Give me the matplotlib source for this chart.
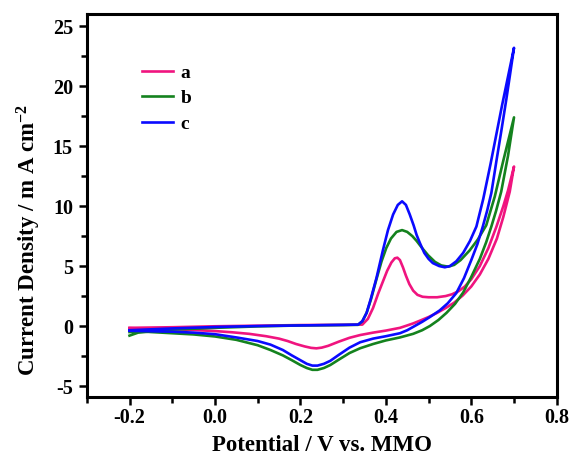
import numpy as np
import matplotlib.pyplot as plt

plt.rcParams['font.family'] = 'Liberation Serif'
plt.rcParams['font.weight'] = 'bold'
plt.rcParams['mathtext.default'] = 'regular'
plt.rcParams['axes.unicode_minus'] = False

# CV loops: forward (anodic) sweep then reverse sweep, potential in V, current in mA cm^-2
a_fwd_E = [-0.2, -0.1, 0.0, 0.1, 0.2, 0.3, 0.345, 0.358, 0.37, 0.382, 0.393, 0.403, 0.413, 0.421, 0.427,
           0.433, 0.44, 0.447, 0.455, 0.464, 0.474, 0.486, 0.50, 0.52, 0.54, 0.555, 0.57, 0.585, 0.60,
           0.62, 0.64, 0.659, 0.675, 0.686, 0.70]
a_fwd_j = [-0.15, -0.1, -0.02, 0.03, 0.08, 0.1, 0.12, 0.6, 1.5, 2.7, 3.7, 4.6, 5.3, 5.65, 5.7,
           5.5, 4.9, 4.2, 3.5, 2.95, 2.6, 2.44, 2.4, 2.4, 2.5, 2.65, 2.9, 3.3, 3.9,
           5.0, 6.5, 8.3, 10.0, 11.3, 13.3]
a_rev_E = [0.70, 0.69, 0.675, 0.66, 0.64, 0.62, 0.60, 0.58, 0.56, 0.54, 0.52, 0.50, 0.48, 0.464, 0.45,
           0.433, 0.40, 0.37, 0.34, 0.315, 0.29, 0.265, 0.25, 0.2375, 0.225, 0.21, 0.19, 0.17, 0.15,
           0.12, 0.08, 0.04, 0.0, -0.05, -0.1, -0.2]
a_rev_j = [13.3, 11.2, 9.1, 7.3, 5.6, 4.3, 3.3, 2.55, 1.95, 1.5, 1.1, 0.75, 0.45, 0.22, 0.05,
           -0.15, -0.38, -0.55, -0.75, -0.98, -1.3, -1.65, -1.8, -1.86, -1.82, -1.7, -1.5, -1.25, -1.05,
           -0.85, -0.65, -0.52, -0.42, -0.33, -0.26, -0.18]

b_fwd_E = [-0.2, -0.18, -0.15, -0.1, 0.0, 0.1, 0.2, 0.3, 0.335, 0.345, 0.355, 0.365, 0.378, 0.39, 0.401,
           0.412, 0.425, 0.438, 0.45, 0.462, 0.472, 0.485, 0.499, 0.515, 0.53, 0.546, 0.56, 0.575, 0.596,
           0.615, 0.635, 0.655, 0.675, 0.70]
b_fwd_j = [-0.8, -0.55, -0.45, -0.3, -0.15, -0.03, 0.05, 0.08, 0.1, 0.4, 1.1, 2.2, 3.9, 5.4, 6.5,
           7.3, 7.85, 8.0, 7.85, 7.5, 7.1, 6.5, 5.9, 5.35, 5.05, 4.95, 5.1, 5.5, 6.3,
           7.2, 8.4, 10.8, 13.8, 17.4]
b_rev_E = [0.70, 0.686, 0.67, 0.658, 0.647, 0.635, 0.62, 0.60, 0.581, 0.562, 0.542, 0.523, 0.503, 0.485,
           0.464, 0.433, 0.40, 0.37, 0.34, 0.315, 0.29, 0.27, 0.255, 0.24, 0.228, 0.215, 0.2, 0.18, 0.159,
           0.13, 0.1, 0.05, 0.0, -0.05, -0.1, -0.15, -0.17, -0.2]
b_rev_j = [17.4, 14.2, 11.2, 9.6, 8.3, 7.0, 5.6, 4.1, 2.8, 1.85, 1.1, 0.5, 0.0, -0.35,
           -0.65, -0.95, -1.2, -1.5, -1.85, -2.25, -2.8, -3.25, -3.5, -3.65, -3.65, -3.5, -3.25, -2.85, -2.45,
           -2.0, -1.6, -1.15, -0.87, -0.7, -0.6, -0.5, -0.45, -0.5]

c_fwd_E = [-0.2, -0.1, 0.0, 0.1, 0.2, 0.3, 0.335, 0.345, 0.355, 0.365, 0.378, 0.393, 0.405, 0.417, 0.428,
           0.438, 0.447, 0.456, 0.465, 0.472, 0.48, 0.49, 0.50, 0.51, 0.525, 0.538, 0.55, 0.565, 0.581,
           0.597, 0.612, 0.628, 0.645, 0.672, 0.70]
c_fwd_j = [-0.35, -0.2, -0.08, 0.0, 0.05, 0.1, 0.12, 0.4, 1.1, 2.3, 4.0, 6.3, 8.0, 9.3, 10.1,
           10.4, 10.1, 9.3, 8.4, 7.6, 6.9, 6.1, 5.6, 5.25, 5.0, 4.9, 5.0, 5.4, 6.1,
           7.1, 8.3, 10.6, 13.5, 18.4, 23.2]
c_rev_E = [0.70, 0.69, 0.682, 0.67, 0.659, 0.647, 0.637, 0.627, 0.614, 0.60, 0.583, 0.565, 0.545, 0.526,
           0.503, 0.485, 0.465, 0.45, 0.433, 0.40, 0.37, 0.34, 0.315, 0.29, 0.27, 0.255, 0.24, 0.228, 0.215,
           0.2, 0.18, 0.159, 0.13, 0.1, 0.05, 0.0, -0.05, -0.1, -0.2]
c_rev_j = [23.2, 20.8, 18.9, 16.2, 13.8, 11.1, 9.6, 8.3, 6.8, 5.5, 4.0, 2.75, 1.9, 1.3,
           0.75, 0.35, -0.05, -0.35, -0.6, -0.85, -1.05, -1.35, -1.8, -2.4, -2.9, -3.15, -3.3, -3.3, -3.15,
           -2.85, -2.45, -2.0, -1.55, -1.25, -0.95, -0.68, -0.55, -0.47, -0.4]

labels = ['a', 'b', 'c']
colors = ['#f0147f', '#14821e', '#0a0aff']
curves = [(a_fwd_E, a_fwd_j, a_rev_E, a_rev_j),
          (b_fwd_E, b_fwd_j, b_rev_E, b_rev_j),
          (c_fwd_E, c_fwd_j, c_rev_E, c_rev_j)]

fig = plt.figure(figsize=(5.71, 4.59), dpi=100)
ax = fig.add_axes([0.152, 0.135, 0.823, 0.834])

for lab, col, (fe, fj, re, rj) in zip(labels, colors, curves):
    E = np.concatenate([fe, re])
    j = np.concatenate([fj, rj])
    ax.plot(E, j, color=col, lw=1.9, label=lab, solid_joinstyle='round')

ax.set_xlim(-0.3, 0.8)
ax.set_ylim(-5.92, 26)
ax.set_xticks(np.arange(-0.2, 0.81, 0.2))
ax.set_xticks(np.arange(-0.3, 0.81, 0.1), minor=True)
ax.set_yticks(np.arange(-5, 26, 5))
ax.set_yticks(np.arange(-5, 26, 2.5), minor=True)
ax.set_xticklabels(['-0.2', '0.0', '0.2', '0.4', '0.6', '0.8'])
ax.tick_params(which='both', direction='out', width=1.8, labelsize=14.5, top=False, right=False)
ax.tick_params(which='major', length=6, pad=4)
ax.tick_params(which='minor', length=4)
ax.tick_params(axis='x', which='major', pad=2)
for s in ax.spines.values():
    s.set_linewidth(2.2)

ax.set_xlabel('Potential / V vs. MMO', fontsize=16.5, fontweight='bold', labelpad=5)
ax.set_ylabel('Current Density / m A cm$^{-2}$', fontsize=16.5, fontweight='bold')
ax.yaxis.set_label_coords(-0.093, 0.41)

ax.legend(loc='upper left', bbox_to_anchor=(0.08, 0.915), frameon=False, fontsize=14,
          handlelength=1.6, handletextpad=0.4, labelspacing=0.4)

fig.savefig('out.png', dpi=100)
